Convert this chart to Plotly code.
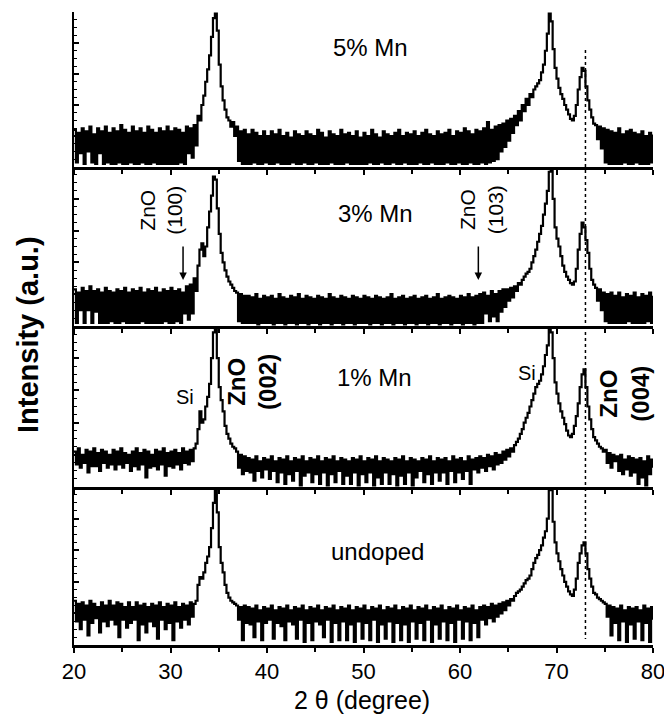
import numpy as np
import plotly.graph_objects as go

# ---------------- data (0.2 deg steps from 20 to 80) -------------
scan_start, scan_step = 20.0, 0.2

mn5 = [24,3,22,9,25,2,23,10,26,3,
       21,2,25,9,23,2,26,3,22,2,
       25,2,23,3,27,2,24,2,22,3,
       26,2,23,2,25,3,22,2,26,2,
       24,3,22,2,25,2,23,2,26,2,
       23,2,25,2,24,3,22,2,26,9,
       25,6,27,14,33,30,40,46,55,63,
       72,84,96,99,88,66,52,43,37,32,
       30,26,29,20,26,4,23,2,24,2,
       21,2,24,3,22,2,20,2,23,3,
       20,2,23,2,21,3,24,2,20,2,
       22,2,19,3,23,2,21,2,20,3,
       23,2,21,2,20,3,24,2,22,2,
       19,2,23,3,21,2,20,2,24,2,
       21,3,22,2,20,2,23,2,19,2,
       22,2,20,3,24,2,21,2,19,3,
       23,2,21,2,20,3,22,2,24,2,
       20,3,22,2,21,2,23,2,20,3,
       22,2,24,2,21,3,20,2,23,2,
       21,2,22,3,24,2,20,2,23,3,
       22,2,25,2,23,3,21,2,24,2,
       23,3,25,2,29,3,24,4,26,5,
       27,10,28,13,30,17,31,22,33,27,
       36,30,40,36,44,40,47,45,50,52,
       54,56,61,66,75,86,99,94,76,64,
       57,51,47,44,40,37,34,31,30,33,
       40,50,58,64,62,52,43,37,32,28,
       27,18,26,12,25,3,24,2,23,2,
       22,2,25,2,21,3,23,2,24,2,
       22,3,21,2,23,2,20,2,22,3,
       21]

mn3 = [23,2,21,10,24,2,22,10,25,2,
       22,9,23,2,21,2,24,2,22,3,
       21,2,23,2,22,3,24,2,21,2,
       23,2,22,2,24,3,21,2,23,2,
       22,2,24,2,21,2,23,3,22,2,
       24,2,22,3,23,2,21,8,25,4,
       26,8,30,22,38,48,52,44,50,62,
       72,82,94,92,74,58,46,40,35,31,
       28,26,24,22,21,3,20,2,19,2,
       19,2,18,2,20,1,17,2,19,2,
       18,2,19,1,17,2,20,2,18,1,
       17,2,19,2,18,1,20,2,17,2,
       19,1,18,2,17,2,19,1,18,2,
       17,2,20,1,18,2,17,2,19,1,
       18,2,17,2,19,1,18,2,17,2,
       19,2,18,1,17,2,19,2,18,1,
       17,2,18,2,20,1,17,2,18,2,
       19,1,17,2,18,2,19,1,17,2,
       18,2,19,1,17,2,18,2,20,1,
       17,2,18,2,19,1,18,2,17,2,
       19,1,18,2,20,2,18,1,19,2,
       20,2,21,8,19,3,22,6,20,3,
       22,9,23,12,23,16,24,18,25,22,
       27,26,29,31,33,34,36,40,44,48,
       53,58,63,70,77,85,97,98,80,62,
       55,50,44,38,34,31,29,27,26,28,
       36,48,58,65,62,54,46,36,29,26,
       24,16,23,10,21,3,20,2,21,2,
       19,2,21,2,18,2,20,3,19,2,
       21,2,18,2,20,2,19,3,21,2,
       19]

mn1 = [22,14,24,12,20,15,23,9,22,13,
       24,13,21,10,23,15,22,12,20,14,
       23,11,22,14,24,12,21,15,20,10,
       22,13,24,11,21,14,23,6,22,12,
       20,13,23,11,22,14,24,7,21,13,
       22,12,23,14,21,11,24,15,22,14,
       23,16,24,27,36,47,40,42,50,56,
       64,80,96,100,80,62,54,47,38,33,
       30,27,25,24,22,12,20,8,19,10,
       18,9,17,4,19,10,16,6,18,11,
       17,5,19,10,16,3,18,9,17,2,
       19,8,16,4,18,10,17,1,19,7,
       16,9,18,3,17,8,19,2,16,9,
       18,1,17,8,19,3,16,10,18,2,
       17,7,16,2,18,9,17,1,19,8,
       16,3,18,9,17,1,19,6,16,2,
       18,9,17,2,16,8,18,1,17,7,
       19,2,16,9,18,1,17,6,16,10,
       18,3,17,8,19,2,16,9,18,4,
       17,9,18,2,16,10,19,3,17,9,
       18,5,16,10,19,2,17,11,18,9,
       19,12,18,10,20,13,19,11,21,14,
       20,15,22,17,23,19,24,22,26,28,
       30,33,36,40,43,46,50,54,58,62,
       64,66,70,75,82,88,100,96,80,65,
       58,52,47,43,39,35,32,31,33,38,
       44,52,62,70,73,62,50,42,36,31,
       29,27,25,24,22,23,15,21,12,20,
       16,19,10,20,8,17,11,19,7,18,
       9,17,2,18,6,16,1,19,8,17,
       12]

undoped = [28,15,26,10,27,16,25,6,28,14,
           26,17,24,8,27,15,25,12,28,16,
           25,13,27,5,26,16,24,11,27,14,
           24,16,27,3,25,13,26,8,24,15,
           26,12,25,4,27,16,24,10,26,14,
           25,3,27,15,24,11,26,16,25,13,
           27,18,26,28,38,43,42,46,52,56,
           62,74,90,100,84,62,52,46,38,33,
           30,28,27,26,25,16,24,3,25,14,
           24,13,23,5,25,15,22,3,24,14,
           23,16,25,4,22,14,24,12,23,3,
           25,15,22,13,24,4,23,16,25,2,
           22,14,24,3,23,15,25,13,22,5,
           24,16,23,2,25,14,22,3,24,15,
           23,3,25,13,22,2,24,15,23,4,
           25,14,22,3,24,16,23,2,25,13,
           22,4,24,15,23,2,25,14,22,3,
           24,13,23,2,25,15,22,4,24,14,
           23,3,25,16,22,2,24,13,23,4,
           25,15,22,3,24,14,23,2,25,16,
           22,4,24,15,23,3,25,14,22,5,
           24,16,25,13,24,17,26,15,25,18,
           26,20,27,22,28,25,29,28,31,33,
           34,35,37,39,41,42,44,48,52,55,
           57,60,63,68,72,80,100,98,78,65,
           58,53,48,44,40,37,34,32,31,35,
           42,52,58,63,65,58,48,42,37,33,
           32,30,29,28,27,26,18,25,6,24,
           14,23,3,25,15,22,2,24,13,23,
           4,24,15,22,3,25,14,23,2,24,
           16]

panel_names = ["5% Mn", "3% Mn", "1% Mn", "undoped"]
panel_series = [mn5, mn3, mn1, undoped]
x_ticks = [20, 30, 40, 50, 60, 70, 80]
zno004_line = 73.0

# ---------------- figure ----------------
W, H = 664, 715
L, R, T, B = 74, 11, 12, 70
plot_h = H - T - B
# panel boundaries in pixels (top, bottom)
bounds_px = [(12, 167), (167, 326), (326, 487), (487, 645)]
def to_paper(py):
    return (H - B - py) / plot_h

fig = go.Figure()
black = "#000000"
for i, (name, vals) in enumerate(zip(panel_names, panel_series)):
    n = i + 1
    xs = scan_start + scan_step * np.arange(len(vals))
    fig.add_trace(go.Scatter(x=xs, y=vals, mode="lines",
                             line=dict(color=black, width=2.2, shape="hv"),
                             xaxis=f"x{n}", yaxis=f"y{n}",
                             showlegend=False, hoverinfo="skip"))
    top, bot = bounds_px[i]
    dom = [to_paper(bot), to_paper(top)]
    xa = dict(domain=[0, 1], range=[20, 80], anchor=f"y{n}", automargin=False,
              showline=True, linewidth=2.5, linecolor=black,
              ticks="outside", ticklen=5, tickwidth=1.5, tickcolor=black,
              tickvals=x_ticks, showgrid=False, zeroline=False,
              minor=dict(dtick=5, ticks="outside", ticklen=4, tickwidth=1.5,
                         tickcolor=black, showgrid=False),
              showticklabels=(n == 4), ticklabeloverflow="allow",
              tickfont=dict(family="Liberation Sans Narrow, Arial Narrow, Liberation Sans, Arial",
                            size=22, color=black))
    if n > 1:
        xa["matches"] = "x"
    ya = dict(domain=dom, range=[0, 100], anchor=f"x{n}", automargin=False,
              showline=True, linewidth=2, linecolor=black,
              ticks="inside", ticklen=5, tickwidth=1.5, tickcolor=black,
              dtick=20, tick0=0, showgrid=False, zeroline=False,
              showticklabels=False,
              minor=dict(dtick=5, ticks="inside", ticklen=3, tickwidth=1,
                         tickcolor=black, showgrid=False))
    fig.update_layout({("xaxis" if n == 1 else f"xaxis{n}"): xa,
                       ("yaxis" if n == 1 else f"yaxis{n}"): ya})

font_reg = "Liberation Sans, Arial, sans-serif"
anns = []
label_pos = [(50.7, 77), (51.2, 71), (51.1, 68), (51.5, 59)]
for i, (name, (lx, ly)) in enumerate(zip(panel_names, label_pos)):
    n = i + 1
    anns.append(dict(x=lx, y=ly, xref=f"x{n}", yref=f"y{n}", text=name,
                     showarrow=False, font=dict(family=font_reg, size=24, color=black)))

# 3% Mn panel: ZnO (100) and (103) with arrows
for tx, ax_x, txt in [(29.0, 31.3, "ZnO<br>(100)"), (62.2, 61.9, "ZnO<br>(103)")]:
    anns.append(dict(x=tx, y=73, xref="x2", yref="y2", text=txt, textangle=-90,
                     showarrow=False, font=dict(family=font_reg, size=21, color=black)))
    anns.append(dict(x=ax_x, y=29, xref="x2", yref="y2", ax=ax_x, ay=51,
                     axref="x2", ayref="y2", text="", showarrow=True,
                     arrowhead=2, arrowsize=1, arrowwidth=1.5, arrowcolor=black))

# 1% Mn panel: Si and ZnO (002)/(004)
anns.append(dict(x=31.5, y=56, xref="x3", yref="y3", text="Si", showarrow=False,
                 font=dict(family=font_reg, size=20, color=black)))
anns.append(dict(x=66.9, y=71, xref="x3", yref="y3", text="Si", showarrow=False,
                 font=dict(family=font_reg, size=20, color=black)))
anns.append(dict(x=38.5, y=65, xref="x3", yref="y3", text="<b>ZnO<br>(002)</b>",
                 textangle=-90, showarrow=False,
                 font=dict(family=font_reg, size=24, color=black)))
anns.append(dict(x=77.0, y=58, xref="x3", yref="y3", text="<b>ZnO<br>(004)</b>",
                 textangle=-90, showarrow=False,
                 font=dict(family=font_reg, size=24, color=black)))

# axis titles
anns.append(dict(x=(28 - L) / (W - L - R), y=to_paper(335), xref="paper", yref="paper",
                 xanchor="center", yanchor="middle",
                 text="<b>Intensity (a.u.)</b>", textangle=-90, showarrow=False,
                 font=dict(family=font_reg, size=29, color=black)))
anns.append(dict(x=(362 - L) / (W - L - R), y=to_paper(700), xref="paper", yref="paper",
                 xanchor="center", yanchor="middle",
                 text="2 θ (degree)", showarrow=False,
                 font=dict(family=font_reg, size=25, color=black)))

shapes = [dict(type="line", xref="x", yref="paper", x0=zno004_line, x1=zno004_line,
               y0=to_paper(50), y1=to_paper(639),
               line=dict(color=black, width=1.5, dash="dot"))]

fig.update_layout(width=W, height=H, margin=dict(l=L, r=R, t=T, b=B, autoexpand=False),
                  paper_bgcolor="white", plot_bgcolor="white",
                  annotations=anns, shapes=shapes, showlegend=False)

fig.write_html("out.html", config={"displayModeBar": False})
